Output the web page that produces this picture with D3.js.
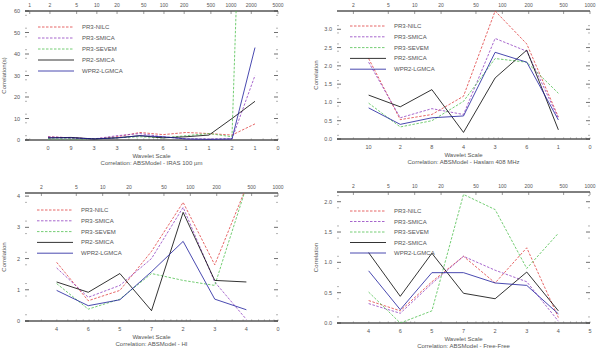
<!DOCTYPE html>
<html><head><meta charset="utf-8">
<script src="https://cdn.jsdelivr.net/npm/d3@7"></script>
<style>body{margin:0;background:#fff}text{font-family:"Liberation Sans",Arial,sans-serif;fill:#555}</style>
</head><body>
<svg id="c" width="600" height="352"></svg>
<script>
// ---------- data ----------
const seriesNames = ["PR3-NILC","PR3-SMICA","PR3-SEVEM","PR2-SMICA","WPR2-LGMCA"];
const seriesColors = ["#e04040","#9040c0","#50c050","#000000","#1c1c9c"];
const seriesDashed = [true,true,true,false,false];

// panel A : IRAS 100 um
const xLabelsA = ["0","9","3","3","6","6","1","1","2","1","0"];
const yTicksA = [0,10,20,30,40,50,60];
const nilcA  = [1.5,1.0,0.5,1.5,3.5,2.5,3.5,3.0,2.3,7.5];
const smicaA = [1.5,1.0,0.5,2.0,3.0,1.5,0.5,0.5,0.5,30];
const sevemA = [0.5,0.5,0.5,1.0,1.5,1.0,2.0,3.0,1.5,330];
const pr2A   = [1.0,1.2,0.5,1.0,2.0,1.0,1.5,2.3,10,18];
const wmapA  = [1.0,1.0,0.5,1.0,2.0,1.5,0.5,0.3,0.5,43];
const topTicksA = [1,2,5,10,20,50,100,200,500,1000,2000,5000];

// panel B : Haslam 408 MHz
const xLabelsB = ["10","2","8","4","3","6","1","0"];
const yTicksB = [0,0.5,1.0,1.5,2.0,2.5,3.0];
const nilcB  = [2.2,0.53,0.67,1.17,3.5,2.6,0.6];
const smicaB = [2.1,0.58,0.83,0.67,2.75,2.4,0.57];
const sevemB = [0.98,0.33,0.5,1.03,2.2,2.1,1.25];
const pr2B   = [1.2,0.88,1.35,0.18,1.67,2.43,0.25];
const wmapB  = [0.85,0.4,0.58,0.63,2.37,2.1,0.52];
const topTicksB = [2,5,10,20,50,100,200,500,1000];

// panel C : HI
const xLabelsC = ["4","6","5","7","2","3","4","0"];
const yTicksC = [0,1,2,3,4];
const nilcC  = [1.88,0.65,0.98,2.23,3.8,1.8,4.3];
const smicaC = [1.7,0.76,1.14,2.0,3.64,1.25,0.05];
const sevemC = [1.2,0.38,0.7,1.52,1.3,1.14,4.3];
const pr2C   = [1.25,0.92,1.52,0.33,3.48,1.3,1.25];
const wmapC  = [0.98,0.49,0.68,1.58,2.55,0.7,0.36];
const topTicksC = [2,5,10,20,50,100,200,500,1000];

// panel D : Free-Free
const xLabelsD = ["4","6","5","7","2","3","4","5"];
const yTicksD = [0,0.5,1.0,1.5,2.0];
const nilcD  = [0.37,0.2,0.68,1.1,0.66,1.24,0.09];
const smicaD = [0.32,0.16,0.65,1.1,0.87,0.68,0.03];
const sevemD = [0.51,0.0,0.2,2.12,1.87,0.9,1.48];
const pr2D   = [1.16,0.44,1.15,0.49,0.4,0.84,0.2];
const wmapD  = [0.86,0.22,0.83,0.83,0.66,0.62,0.15];
const topTicksD = [2,5,10,20,50,100,200,500,1000];

const titles = ["Correlation: ABSModel - IRAS 100 \u00b5m","Correlation: ABSModel - Haslam 408 MHz","Correlation: ABSModel - HI","Correlation: ABSModel - Free-Free"];
const yTitles = ["Correlation(s)","Correlation","Correlation","Correlation"];
const xTitle = "Wavelet Scale";

// ---------- layout ----------
const panels = [
  {x0:25,x1:278,y0:11,y1:140,yMax:60,fmt:d3.format("d"),xLabels:xLabelsA,yTicks:yTicksA,data:[nilcA,smicaA,sevemA,pr2A,wmapA],top:topTicksA,topMin:0.85,lg:{x:38,y:27,dy:11}},
  {x0:337,x1:590,y0:11,y1:139,yMax:3.5,fmt:d3.format(".1f"),xLabels:xLabelsB,yTicks:yTicksB,data:[nilcB,smicaB,sevemB,pr2B,wmapB],top:topTicksB,topMin:1.3,lg:{x:350,y:26,dy:10.8}},
  {x0:25,x1:278,y0:193,y1:321,yMax:4.1,fmt:d3.format("d"),xLabels:xLabelsC,yTicks:yTicksC,data:[nilcC,smicaC,sevemC,pr2C,wmapC],top:topTicksC,topMin:1.3,lg:{x:37,y:210,dy:10.8}},
  {x0:337,x1:590,y0:192,y1:323,yMax:2.16,fmt:d3.format(".1f"),xLabels:xLabelsD,yTicks:yTicksD,data:[nilcD,smicaD,sevemD,pr2D,wmapD],top:topTicksD,topMin:1.3,lg:{x:350,y:211,dy:10.5}}
];

const svg = d3.select("#c");
panels.forEach((p,pi)=>{
  const g = svg.append("g");
  const x = d3.scaleLinear().domain([0,p.xLabels.length]).range([p.x0,p.x1]);
  const y = d3.scaleLinear().domain([0,p.yMax]).range([p.y1,p.y0]);
  const xt = d3.scaleLog().domain([p.topMin,p.top[p.top.length-1]]).range([p.x0,p.x1]);

  const cid = "clip"+pi;
  g.append("clipPath").attr("id",cid).append("rect")
    .attr("x",p.x0).attr("y",p.y0).attr("width",p.x1-p.x0).attr("height",p.y1-p.y0);

  g.append("line").attr("x1",p.x0).attr("x2",p.x1).attr("y1",p.y0).attr("y2",p.y0).attr("stroke","#000").attr("stroke-width",1);
  g.append("line").attr("x1",p.x0).attr("x2",p.x1).attr("y1",p.y1).attr("y2",p.y1).attr("stroke","#000").attr("stroke-width",1);

  const minor = xt.ticks(40).filter(v=>v>=p.topMin);
  minor.forEach(v=>{
    const xx = xt(v);
    g.append("line").attr("x1",xx).attr("x2",xx).attr("y1",p.y1).attr("y2",p.y1-1.5).attr("stroke","#666").attr("stroke-width",0.6);
  });
  p.top.forEach(v=>{
    const xx = xt(v);
    g.append("line").attr("x1",xx).attr("x2",xx).attr("y1",p.y0).attr("y2",p.y0+3).attr("stroke","#555").attr("stroke-width",0.6);
    g.append("text").attr("x",xx).attr("y",p.y0-4).attr("text-anchor","middle").attr("font-size",5).text(v);
  });

  const step = p.yTicks[1]-p.yTicks[0];
  p.yTicks.forEach(v=>{
    const yy = y(v);
    [[p.x0,1],[p.x1,-1]].forEach(([xx,s])=>{
      g.append("line").attr("x1",xx).attr("x2",xx+s*4).attr("y1",yy).attr("y2",yy).attr("stroke","#333").attr("stroke-width",0.7);
      [-0.2,0.2].forEach(f=>{
        const vv = v+f*step;
        if(vv<0||vv>p.yMax) return;
        g.append("line").attr("x1",xx).attr("x2",xx+s*2).attr("y1",y(vv)).attr("y2",y(vv)).attr("stroke","#666").attr("stroke-width",0.5);
      });
    });
    g.append("text").attr("x",p.x0-5).attr("y",yy+2).attr("text-anchor","end").attr("font-size",5.5).text(p.fmt(v));
  });

  p.xLabels.forEach((l,i)=>{
    g.append("text").attr("x",x(i+1)).attr("y",p.y1+10).attr("text-anchor","middle").attr("font-size",5.5).text(l);
  });
  g.append("text").attr("x",(p.x0+p.x1)/2).attr("y",p.y1+18).attr("text-anchor","middle").attr("font-size",6).text(xTitle);
  g.append("text").attr("x",(p.x0+p.x1)/2).attr("y",p.y1+25).attr("text-anchor","middle").attr("font-size",6).text(titles[pi]);
  g.append("text").attr("transform",`translate(${p.x0-19},${(p.y0+p.y1)/2}) rotate(-90)`).attr("text-anchor","middle").attr("font-size",6).text(yTitles[pi]);

  const line = d3.line().x((d,i)=>x(i+1)).y(d=>y(d));
  const lines = g.append("g").attr("clip-path",`url(#${cid})`);
  p.data.forEach((arr,si)=>{
    lines.append("path").datum(arr).attr("d",line).attr("fill","none")
      .attr("stroke",seriesColors[si]).attr("stroke-width",0.8)
      .attr("stroke-dasharray",seriesDashed[si]?"2.5,1.5":null);
  });

  seriesNames.forEach((nm,si)=>{
    const ly = p.lg.y + si*p.lg.dy;
    g.append("line").attr("x1",p.lg.x).attr("x2",p.lg.x+36).attr("y1",ly).attr("y2",ly)
      .attr("stroke",seriesColors[si]).attr("stroke-width",0.8)
      .attr("stroke-dasharray",seriesDashed[si]?"2.5,1.5":null);
    g.append("text").attr("x",p.lg.x+44).attr("y",ly+2).attr("font-size",6).text(nm);
  });
});
</script>
</body></html>
